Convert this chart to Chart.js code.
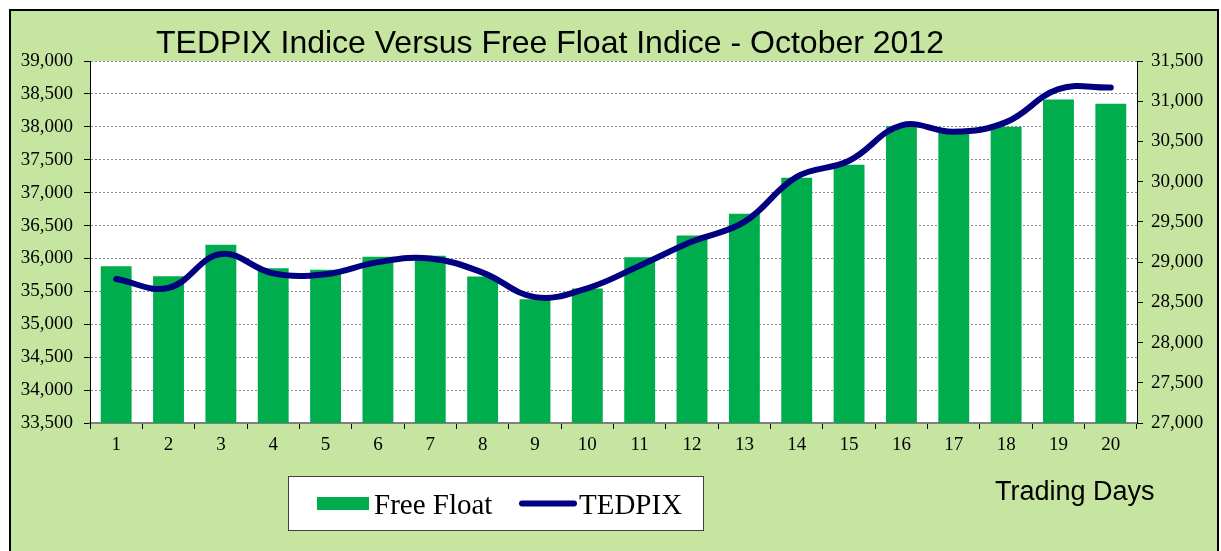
<!DOCTYPE html>
<html>
<head>
<meta charset="utf-8">
<script src="https://cdn.jsdelivr.net/npm/chart.js@4/dist/chart.umd.min.js"></script>
<style>
  html, body { margin: 0; padding: 0; background: #ffffff; }
  #wrap { width: 1221px; height: 551px; position: relative; }
</style>
</head>
<body>
<div id="wrap"><canvas id="c" width="1221" height="551"></canvas></div>
<script>
const titleText = "TEDPIX Indice Versus Free Float Indice - October 2012";
const xAxisTitle = "Trading Days";
const categories = ["1","2","3","4","5","6","7","8","9","10","11","12","13","14","15","16","17","18","19","20"];
const freeFloat = [35880, 35730, 36210, 35850, 35830, 36025, 36040, 35725, 35380, 35545, 36020, 36350, 36680, 37225, 37425, 38010, 37940, 38000, 38415, 38350];
const tedpix = [28790, 28680, 29100, 28860, 28850, 29000, 29045, 28870, 28565, 28675, 28955, 29255, 29500, 30060, 30260, 30700, 30620, 30740, 31150, 31170];
const leftTicks = [33500, 34000, 34500, 35000, 35500, 36000, 36500, 37000, 37500, 38000, 38500, 39000];
const rightTicks = [27000, 27500, 28000, 28500, 29000, 29500, 30000, 30500, 31000, 31500];

const BG = "#C5E5A0";
const BAR = "#00AD4D";
const LINE = "#000080";

const fmt = v => v.toLocaleString("en-US");

const decor = {
  id: "decor",
  beforeDraw(chart) {
    const ctx = chart.ctx;
    const a = chart.chartArea;
    ctx.save();
    ctx.fillStyle = "#ffffff";
    ctx.fillRect(0, 0, chart.width, chart.height);
    ctx.fillStyle = BG;
    ctx.fillRect(10, 10, 1208, 560);
    ctx.strokeStyle = "#000000";
    ctx.lineWidth = 2;
    ctx.strokeRect(10, 10, 1208, 560);
    ctx.fillStyle = "#ffffff";
    ctx.fillRect(a.left, a.top, a.right - a.left, a.bottom - a.top);
    ctx.restore();
  },
  afterDraw(chart) {
    const ctx = chart.ctx;
    const barDs = chart.data.datasets.find(d => d.type === "bar");
    const lineDs = chart.data.datasets.find(d => d.type === "line");
    ctx.save();
    // title
    ctx.fillStyle = "#000000";
    ctx.font = "32px 'Liberation Sans', Arial, sans-serif";
    ctx.textAlign = "center";
    ctx.textBaseline = "alphabetic";
    ctx.fillText(titleText, 550, 53);
    // axis title
    ctx.font = "27px 'Liberation Sans', Arial, sans-serif";
    ctx.textAlign = "left";
    ctx.fillText(xAxisTitle, 995, 500);
    // legend box
    ctx.fillStyle = "#ffffff";
    ctx.fillRect(288, 476, 415, 54);
    ctx.strokeStyle = "#404040";
    ctx.lineWidth = 1;
    ctx.strokeRect(288.5, 476.5, 415, 54);
    ctx.fillStyle = BAR;
    ctx.fillRect(317, 497, 52, 13);
    ctx.strokeStyle = LINE;
    ctx.lineWidth = 6;
    ctx.lineCap = "round";
    ctx.beginPath();
    ctx.moveTo(522, 503.5);
    ctx.lineTo(574, 503.5);
    ctx.stroke();
    ctx.fillStyle = "#000000";
    ctx.font = "29px 'Liberation Serif', 'Times New Roman', serif";
    ctx.textBaseline = "alphabetic";
    ctx.fillText(barDs.label, 374, 514);
    ctx.fillText(lineDs.label, 579, 514);
    ctx.restore();
  }
};

const tickFont = { family: "'Liberation Serif', 'Times New Roman', serif", size: 19 };

new Chart(document.getElementById("c"), {
  data: {
    labels: categories,
    datasets: [
      {
        type: "line",
        label: "TEDPIX",
        data: tedpix,
        yAxisID: "yR",
        borderColor: LINE,
        borderWidth: 6,
        borderCapStyle: "round",
        tension: 0.4,
        pointRadius: 0,
        fill: false,
        order: 0
      },
      {
        type: "bar",
        label: "Free Float",
        data: freeFloat,
        yAxisID: "yL",
        backgroundColor: BAR,
        borderWidth: 0,
        categoryPercentage: 1.0,
        barPercentage: 0.59,
        order: 1
      }
    ]
  },
  options: {
    responsive: false,
    animation: false,
    events: [],
    layout: { padding: { top: 61, left: 0, right: 0, bottom: 0 } },
    plugins: {
      legend: { display: false },
      title: { display: false },
      tooltip: { enabled: false }
    },
    scales: {
      x: {
        offset: true,
        grid: { offset: true, drawOnChartArea: false, color: "#000000", tickLength: 6, lineWidth: 1 },
        border: { color: "#808080", width: 2 },
        ticks: { color: "#000000", font: tickFont, padding: 5, maxRotation: 0 },
        afterFit(s) { s.height = 128; }
      },
      yL: {
        type: "linear",
        position: "left",
        min: 33500,
        max: 39000,
        afterBuildTicks(s) { s.ticks = leftTicks.map(v => ({ value: v })); },
        grid: { drawOnChartArea: true, color: "#8c8c8c", tickColor: "#000000", tickLength: 6, lineWidth: 1 },
        border: { color: "#000000", width: 1, dash: [2, 2] },
        ticks: { color: "#000000", font: tickFont, padding: 11, callback: v => fmt(v) },
        afterFit(s) { s.width = 90; }
      },
      yR: {
        type: "linear",
        position: "right",
        min: 27000,
        max: 31500,
        afterBuildTicks(s) { s.ticks = rightTicks.map(v => ({ value: v })); },
        grid: { drawOnChartArea: false, color: "#000000", tickLength: 6 },
        border: { color: "#000000", width: 1 },
        ticks: { color: "#000000", font: tickFont, padding: 8, callback: v => fmt(v) },
        afterFit(s) { s.width = 84; }
      }
    }
  },
  plugins: [decor]
});
</script>
</body>
</html>
